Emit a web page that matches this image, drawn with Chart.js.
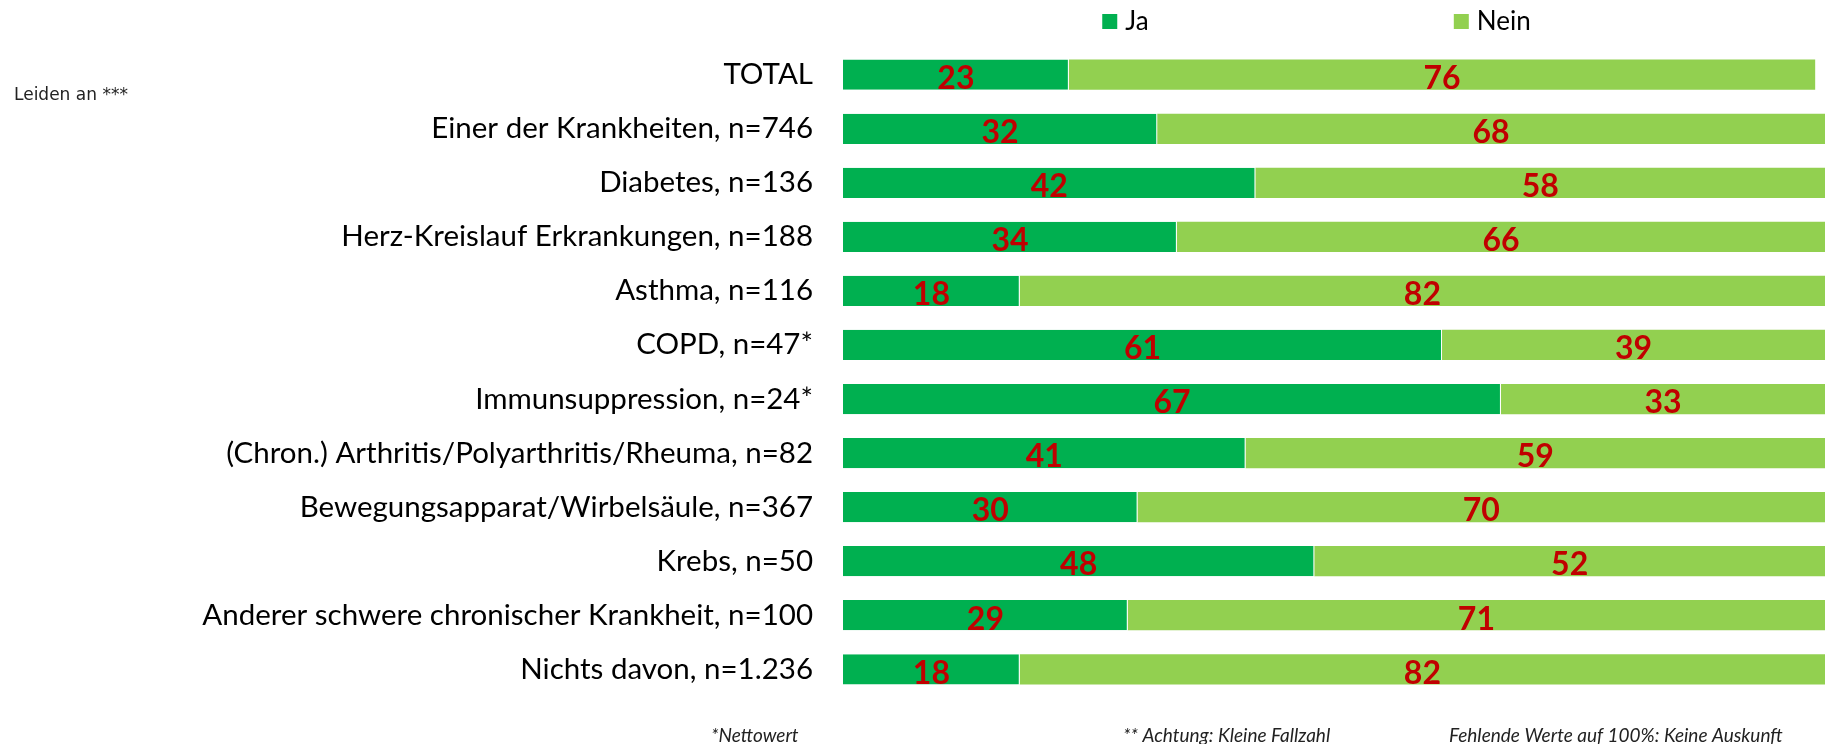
<!DOCTYPE html>
<html>
<head>
<meta charset="utf-8">
<script src="https://cdn.jsdelivr.net/npm/chart.js@4.4.0/dist/chart.umd.min.js"></script>
<style>
  html, body { margin: 0; padding: 0; background: #fff; }
  #wrap { width: 1826px; height: 744px; }
</style>
</head>
<body>
<div id="wrap"><canvas id="grafico"></canvas></div>
<script>
var kategorien = [
    'TOTAL',
    'Einer der Krankheiten, n=746',
    'Diabetes, n=136',
    'Herz-Kreislauf Erkrankungen, n=188',
    'Asthma, n=116',
    'COPD, n=47*',
    'Immunsuppression, n=24*',
    '(Chron.) Arthritis/Polyarthritis/Rheuma, n=82',
    'Bewegungsapparat/Wirbelsäule, n=367',
    'Krebs, n=50',
    'Anderer schwere chronischer Krankheit, n=100',
    'Nichts davon, n=1.236'
];
var werteJa = [23, 32, 42, 34, 18, 61, 67, 41, 30, 48, 29, 18];
var werteNein = [76, 68, 58, 66, 82, 39, 33, 59, 70, 52, 71, 82];
var fussnoten = ['*Nettowert', '** Achtung: Kleine Fallzahl', 'Fehlende Werte auf 100%: Keine Auskunft'];
var titelLinks = 'Leiden an ***';

var schrift = 'Lato, "Open Sans", sans-serif';

// Zahlen in den Balken
var wertLabels = {
    id: 'wertLabels',
    afterDatasetsDraw: function (chart) {
        var ctx = chart.ctx;
        ctx.save();
        ctx.font = 'bold 32px ' + schrift;
        ctx.fillStyle = '#C00000';
        ctx.textAlign = 'center';
        ctx.textBaseline = 'middle';
        chart.data.datasets.forEach(function (ds, i) {
            var meta = chart.getDatasetMeta(i);
            meta.data.forEach(function (bar, j) {
                var cx = (bar.x + bar.base) / 2;
                ctx.fillText(ds.data[j], cx, bar.y + 4);
            });
        });
        ctx.restore();
    }
};

// Legende, Titel links und Fussnoten
var texte = {
    id: 'texte',
    afterDraw: function (chart) {
        var ctx = chart.ctx;
        var area = chart.chartArea;
        var w = area.right - area.left;
        ctx.save();

        var pos = [0.264, 0.622];
        ctx.font = '26px ' + schrift;
        ctx.textBaseline = 'middle';
        ctx.textAlign = 'left';
        chart.data.datasets.forEach(function (ds, i) {
            var x = area.left + pos[i] * w;
            ctx.fillStyle = ds.backgroundColor;
            ctx.fillRect(x, 14, 15, 15);
            ctx.fillStyle = '#000';
            ctx.fillText(ds.label, x + 23, 22);
        });

        ctx.font = '17px "DejaVu Sans", sans-serif';
        ctx.fillStyle = '#222';
        ctx.fillText(titelLinks, 14, 96);

        ctx.font = 'italic 19px ' + schrift;
        ctx.fillStyle = '#222';
        var fx = [711, 1123, 1449];
        fussnoten.forEach(function (t, i) {
            ctx.fillText(t, fx[i], 736);
        });
        ctx.restore();
    }
};

new Chart(document.getElementById('grafico'), {
    type: 'bar',
    data: {
        labels: kategorien,
        datasets: [{
            label: 'Ja',
            data: werteJa,
            backgroundColor: '#00B050',
            borderColor: '#ffffff',
            borderWidth: { right: 1 },
            borderSkipped: false,
            barPercentage: 0.56,
            categoryPercentage: 1
        },
        {
            label: 'Nein',
            data: werteNein,
            backgroundColor: '#92D050',
            borderColor: '#ffffff',
            borderWidth: 0,
            barPercentage: 0.56,
            categoryPercentage: 1
        }]
    },
    options: {
        indexAxis: 'y',
        responsive: true,
        maintainAspectRatio: false,
        animation: false,
        layout: {
            padding: { top: 44, bottom: 33, left: 0, right: 1 }
        },
        plugins: {
            legend: { display: false },
            tooltip: { enabled: false }
        },
        scales: {
            x: {
                stacked: true,
                min: 0,
                max: 100,
                display: false
            },
            y: {
                stacked: true,
                grid: { display: false, drawTicks: false },
                border: { display: false },
                ticks: {
                    color: '#000',
                    padding: 30,
                    font: { family: schrift, size: 29.5 }
                },
                afterFit: function (scale) {
                    scale.width = 843;
                }
            }
        }
    },
    plugins: [wertLabels, texte]
});
</script>
</body>
</html>
